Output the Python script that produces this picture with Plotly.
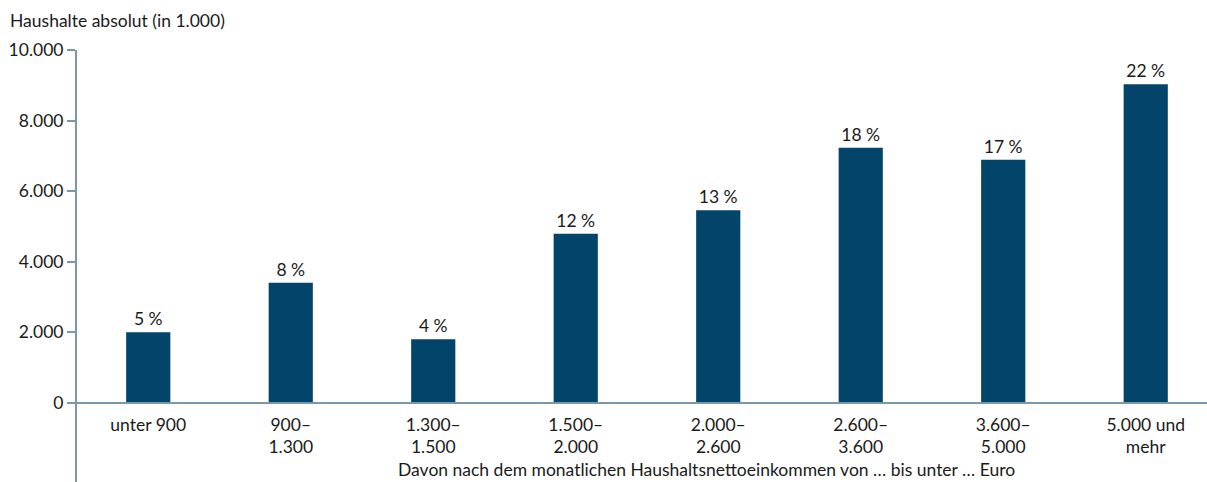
import plotly.graph_objects as go

# Households by monthly net household income (in thousands)
categories = ["unter 900", "900–<br>1.300", "1.300–<br>1.500", "1.500–<br>2.000",
              "2.000–<br>2.600", "2.600–<br>3.600", "3.600–<br>5.000", "5.000 und<br>mehr"]
households = [2000, 3400, 1800, 4790, 5460, 7230, 6890, 9030]
shares = ["5 %", "8 %", "4 %", "12 %", "13 %", "18 %", "17 %", "22 %"]
y_ticks = [0, 2000, 4000, 6000, 8000, 10000]
y_tick_labels = ["0", "2.000", "4.000", "6.000", "8.000", "10.000"]

FONT = "Lato"
FS = 17.5
AXIS_COLOR = "#7b98aa"
BAR_COLOR = "#02446a"
TEXT_COLOR = "#1a1a1a"

y_min, y_max = -2248, 10000
x_pos = [i for i in range(len(categories))]

fig = go.Figure(
    go.Bar(
        x=x_pos,
        y=households,
        text=shares,
        textposition="outside",
        textfont=dict(family=FONT, size=FS, color=TEXT_COLOR),
        marker=dict(color=BAR_COLOR, line=dict(width=0)),
        width=0.31,
        cliponaxis=False,
    )
)

fig.update_layout(
    width=1207,
    height=482,
    margin=dict(l=77, r=0, t=50, b=0),
    paper_bgcolor="white",
    plot_bgcolor="white",
    showlegend=False,
    font=dict(family=FONT, size=FS, color=TEXT_COLOR),
    xaxis=dict(
        range=[-0.5, 7.43],
        tickmode="array",
        tickvals=x_pos,
        ticktext=categories,
        anchor="free",
        position=(0 - y_min) / (y_max - y_min),
        showline=True,
        linecolor=AXIS_COLOR,
        linewidth=2,
        ticks="",
        ticklabelstandoff=6,
        showgrid=False,
        zeroline=False,
        tickfont=dict(family=FONT, size=FS, color=TEXT_COLOR),
    ),
    yaxis=dict(
        range=[y_min, y_max],
        tickmode="array",
        tickvals=y_ticks,
        ticktext=y_tick_labels,
        showline=True,
        linecolor=AXIS_COLOR,
        linewidth=2,
        ticks="outside",
        ticklen=8,
        tickwidth=2,
        tickcolor=AXIS_COLOR,
        showgrid=False,
        zeroline=False,
        tickfont=dict(family=FONT, size=FS, color=TEXT_COLOR),
    ),
    annotations=[
        dict(
            text="Haushalte absolut (in 1.000)",
            xref="paper", yref="paper",
            x=-69 / 1130, y=1,
            xanchor="left", yanchor="bottom",
            yshift=17,
            showarrow=False,
            font=dict(family=FONT, size=FS, color=TEXT_COLOR),
        ),
        dict(
            text="Davon nach dem monatlichen Haushaltsnettoeinkommen von … bis unter … Euro",
            xref="x", yref="paper",
            x=3.92, y=0,
            xanchor="center", yanchor="bottom",
            yshift=0,
            showarrow=False,
            font=dict(family=FONT, size=FS, color=TEXT_COLOR),
        ),
    ],
)

fig.write_html("out.html")
